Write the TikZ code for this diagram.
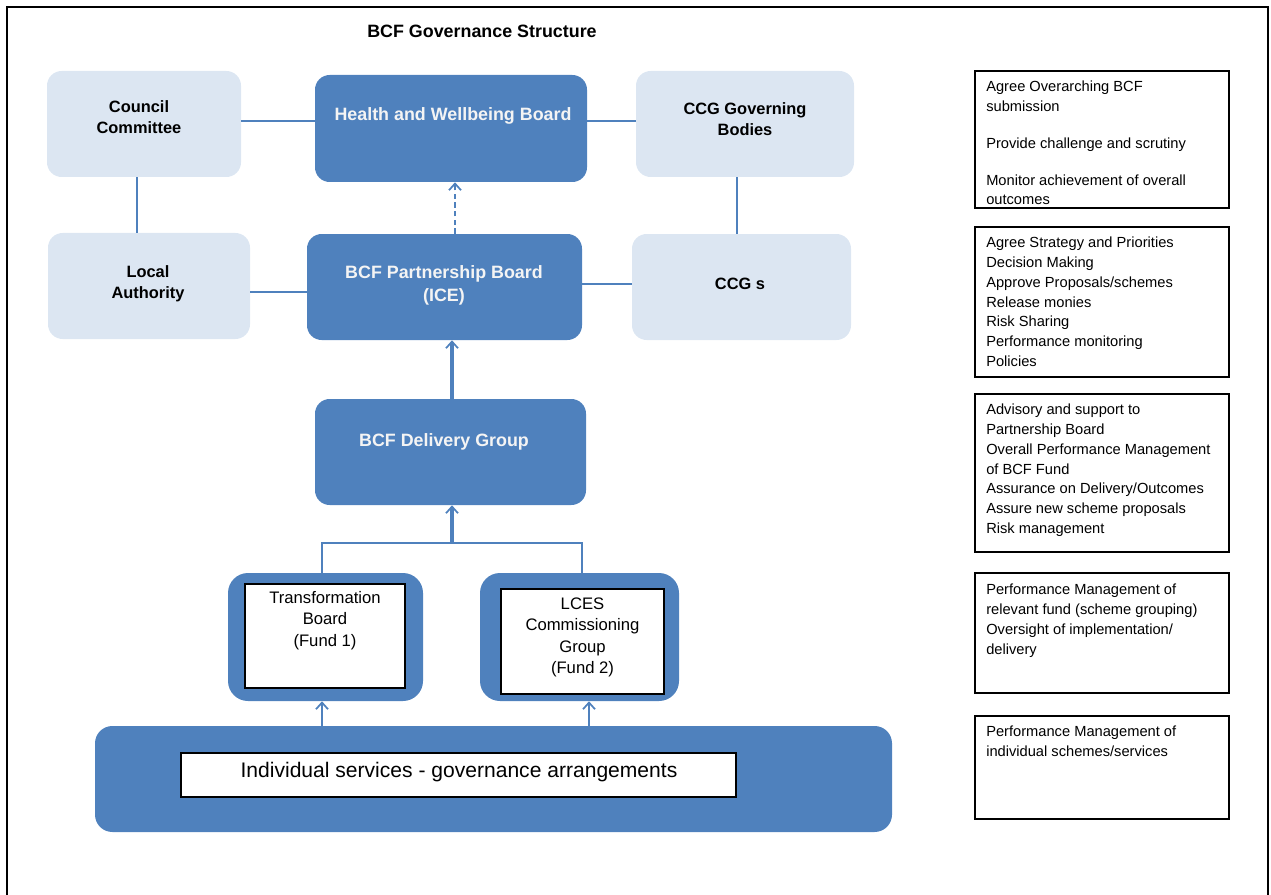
\documentclass[tikz,border=0pt]{standalone}
\usepackage{fontspec}
\setmainfont{Liberation Sans}
\usetikzlibrary{arrows.meta}
\definecolor{dblue}{HTML}{4F81BD}
\definecolor{lblue}{HTML}{DCE6F2}
\definecolor{wtext}{HTML}{F4F4F4}
\begin{document}
\begin{tikzpicture}[x=0.75pt,y=-0.75pt,
  dark/.style={fill=dblue,draw=none,rounded corners=11pt,inner sep=0pt},
  light/.style={fill=lblue,draw=none,rounded corners=11pt,inner sep=0pt},
  inbox/.style={fill=white,draw=black,line width=1.1pt,inner sep=0pt},
  sz/.style 2 args={minimum width={#1*0.75pt},minimum height={#2*0.75pt}},
  dtxt/.style={text=wtext,font=\fontsize{13.4}{17}\selectfont\bfseries,align=center,inner sep=0pt},
  ltxt/.style={text=black,font=\fontsize{12.3}{16}\selectfont\bfseries,align=center,inner sep=0pt},
  wtxt/.style={text=black,font=\fontsize{12.5}{16.2}\selectfont,align=center,inner sep=0pt},
  rbox/.style={draw=black,line width=0.8pt,inner sep=0pt,minimum width={254*0.75pt}},
  rtxt/.style={font=\fontsize{11}{14.8}\selectfont,align=left,anchor=north west,inner sep=0pt},
  conn/.style={draw=dblue,line width=1.1pt},
  thick conn/.style={draw=dblue,line width=2.6pt},
  tip/.style={-{Straight Barb[length=5pt,width=9pt,line width=1.3pt]}}
]
\useasboundingbox (0,0) rectangle (1271,895);
% frame
\draw[line width=1.5pt] (7,895) -- (7,7) -- (1268,7) -- (1268,895);

\node[font=\fontsize{13.4}{15}\selectfont\bfseries,inner sep=0pt] (title) at (482,31) {BCF Governance Structure};

% main boxes
\node[light,sz={194}{106}] (CC) at (144,124) {};
\node[ltxt] (CCt) at (139,117) {Council\\Committee};
\node[dark,sz={272}{107}] (HWB) at (451,128.5) {};
\node[dtxt] (HWBt) at (453,116) {Health and Wellbeing Board};
\node[light,sz={218}{106}] (CGB) at (745,124) {};
\node[ltxt] (CGBt) at (745,119) {CCG Governing\\Bodies};
\node[light,sz={202}{106}] (LA) at (149,286) {};
\node[ltxt] (LAt) at (148,283.5) {Local\\Authority};
\node[dark,sz={275}{106}] (PB) at (444.5,287) {};
\node[dtxt] (PBt) at (444,285.5) {BCF Partnership Board\\(ICE)};
\node[light,sz={219}{106}] (CCGs) at (741.5,287) {};
\node[ltxt] (CCGst) at (740,284) {CCG s};
\node[dark,sz={271}{106}] (DG) at (450.5,452) {};
\node[dtxt] (DGt) at (444,442) {BCF Delivery Group};

\node[dark,rounded corners=15pt,sz={195}{128}] (TBo) at (325.5,637) {};
\node[inbox,sz={160}{104}] (TBi) at (325,636) {};
\node[wtxt] (TBt) at (325,620.5) {Transformation\\Board\\(Fund 1)};
\node[dark,rounded corners=15pt,sz={199}{128}] (LCo) at (579.5,637) {};
\node[inbox,sz={163}{105}] (LCi) at (582.5,641.5) {};
\node[wtxt] (LCt) at (582.5,637.5) {LCES\\Commissioning\\Group\\(Fund 2)};

\node[dark,rounded corners=13pt,sz={797}{106}] (Bot) at (493.5,779) {};
\node[inbox,sz={555}{44}] (Boti) at (458.5,775) {};
\node[font=\fontsize{15.8}{17}\selectfont,inner sep=0pt] (Bott) at (459,772) {Individual services - governance arrangements};

% connectors
\draw[conn] (CC.east |- 0,121) -- (HWB.west |- 0,121);
\draw[conn] (HWB.east |- 0,121) -- (CGB.west |- 0,121);
\draw[conn] (CC.south -| 137,0) -- (LA.north -| 137,0);
\draw[conn] (CGB.south -| 737,0) -- (CCGs.north -| 737,0);
\draw[conn] (LA.east |- 0,292) -- (PB.west |- 0,292);
\draw[conn] (PB.east |- 0,284) -- (CCGs.west |- 0,284);
\draw[conn,tip,dashed,dash pattern=on 4pt off 2.5pt] (PB.north -| 455,0) -- (HWB.south -| 455,0);
\draw[thick conn,tip] (DG.north -| 452,0) -- (PB.south -| 452,0);
\coordinate (fk) at (452,543);
\draw[conn] (TBo.north -| 322,0) |- (fk) -| (LCo.north -| 582,0);
\draw[thick conn,tip] (fk) -- (DG.south -| 452,0);
\draw[conn,tip] (Bot.north -| 322,0) -- (TBo.south -| 322,0);
\draw[conn,tip] (Bot.north -| 589,0) -- (LCo.south -| 589,0);

% right-hand boxes
\node[rbox,minimum height={137*0.75pt}] (R1) at (1102,139.5) {};
\node[rtxt] (R1t) at (986,81) {Agree Overarching BCF\\submission\\[13pt]Provide challenge and scrutiny\\[12.5pt]Monitor achievement of overall\\outcomes};
\node[rbox,minimum height={150*0.75pt}] (R2) at (1102,302) {};
\node[rtxt] (R2t) at (986,237) {Agree Strategy and Priorities\\Decision Making\\Approve Proposals/schemes\\Release monies\\Risk Sharing\\Performance monitoring\\Policies};
\node[rbox,minimum height={158*0.75pt}] (R3) at (1102,473) {};
\node[rtxt] (R3t) at (986,404) {Advisory and support to\\Partnership Board\\Overall Performance Management\\of BCF Fund\\Assurance on Delivery/Outcomes\\Assure new scheme proposals\\Risk management};
\node[rbox,minimum height={120*0.75pt}] (R4) at (1102,633) {};
\node[rtxt] (R4t) at (986,584) {Performance Management of\\relevant fund (scheme grouping)\\Oversight of implementation/\\delivery};
\node[rbox,minimum height={103*0.75pt}] (R5) at (1102,767.5) {};
\node[rtxt] (R5t) at (986,726) {Performance Management of\\individual schemes/services};
\end{tikzpicture}
\end{document}
